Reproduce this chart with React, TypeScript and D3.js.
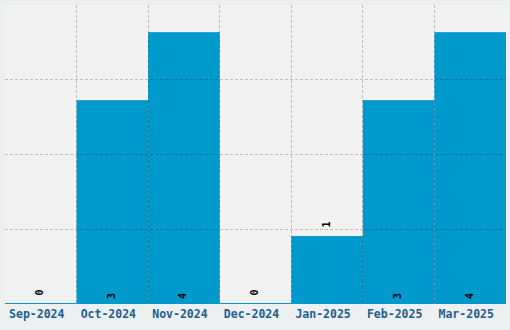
import React from "react";
import * as d3 from "d3";

const categories = ["Sep-2024", "Oct-2024", "Nov-2024", "Dec-2024", "Jan-2025", "Feb-2025", "Mar-2025"];
const values = [0, 3, 4, 0, 1, 3, 4];
const yMax = 4.4;
const gridCount = 4;

const W = 510;
const H = 330;
const plot = { left: 5, top: 5, right: 506, bottom: 304 };

export default function App() {
  const x = d3.scaleBand<string>().domain(categories).range([plot.left, plot.right]).padding(0);
  const y = d3.scaleLinear().domain([0, yMax]).range([plot.bottom, plot.top]);
  const yGrid = d3.range(1, gridCount).map((i) => (yMax / gridCount) * i);
  const xGrid = categories.slice(1).map((c) => x(c)!);

  return (
    <div style={{ position: "fixed", left: 0, top: 0 }}>
      <svg width={W} height={H} style={{ display: "block" }}>
        <rect x={0} y={0} width={W} height={H} fill="#edf0f1" />
        <rect x={plot.left} y={plot.top} width={plot.right - plot.left} height={plot.bottom - plot.top} fill="#f2f2f2" />
        {categories.map((c, i) => {
          const v = values[i];
          const top = Math.min(y(v), plot.bottom - 1);
          return (
            <rect key={c} x={x(c)!} y={top} width={x.bandwidth()} height={plot.bottom - top} fill="#0099cc" />
          );
        })}
        {yGrid.map((g) => (
          <line key={"h" + g} x1={plot.left} x2={plot.right} y1={Math.floor(y(g)) + 0.5} y2={Math.floor(y(g)) + 0.5}
            stroke="rgba(0,0,0,0.22)" strokeDasharray="3,2" />
        ))}
        {xGrid.map((gx) => (
          <line key={"v" + gx} x1={Math.floor(gx) + 0.5} x2={Math.floor(gx) + 0.5} y1={plot.top} y2={plot.bottom}
            stroke="rgba(0,0,0,0.22)" strokeDasharray="3,2" />
        ))}
        {categories.map((c, i) => {
          const v = values[i];
          const cx = x(c)! + x.bandwidth() / 2;
          const inside = v >= 2;
          const cy = inside ? plot.bottom - 8 : y(v) - 11.5;
          return (
            <text key={"l" + c} transform={`translate(${cx - 1},${cy}) rotate(-90)`} textAnchor="middle"
              dominantBaseline="central" fontFamily="DejaVu Sans Mono" fontWeight="bold" fontSize={10} fill="#000">
              {v}
            </text>
          );
        })}
        {categories.map((c) => (
          <text key={"a" + c} x={x(c)! + x.bandwidth() / 2 - 4} y={318} textAnchor="middle"
            fontFamily="DejaVu Sans Mono" fontWeight="bold" fontSize={11.5} fill="#1e5f8e">
            {c}
          </text>
        ))}
      </svg>
    </div>
  );
}
